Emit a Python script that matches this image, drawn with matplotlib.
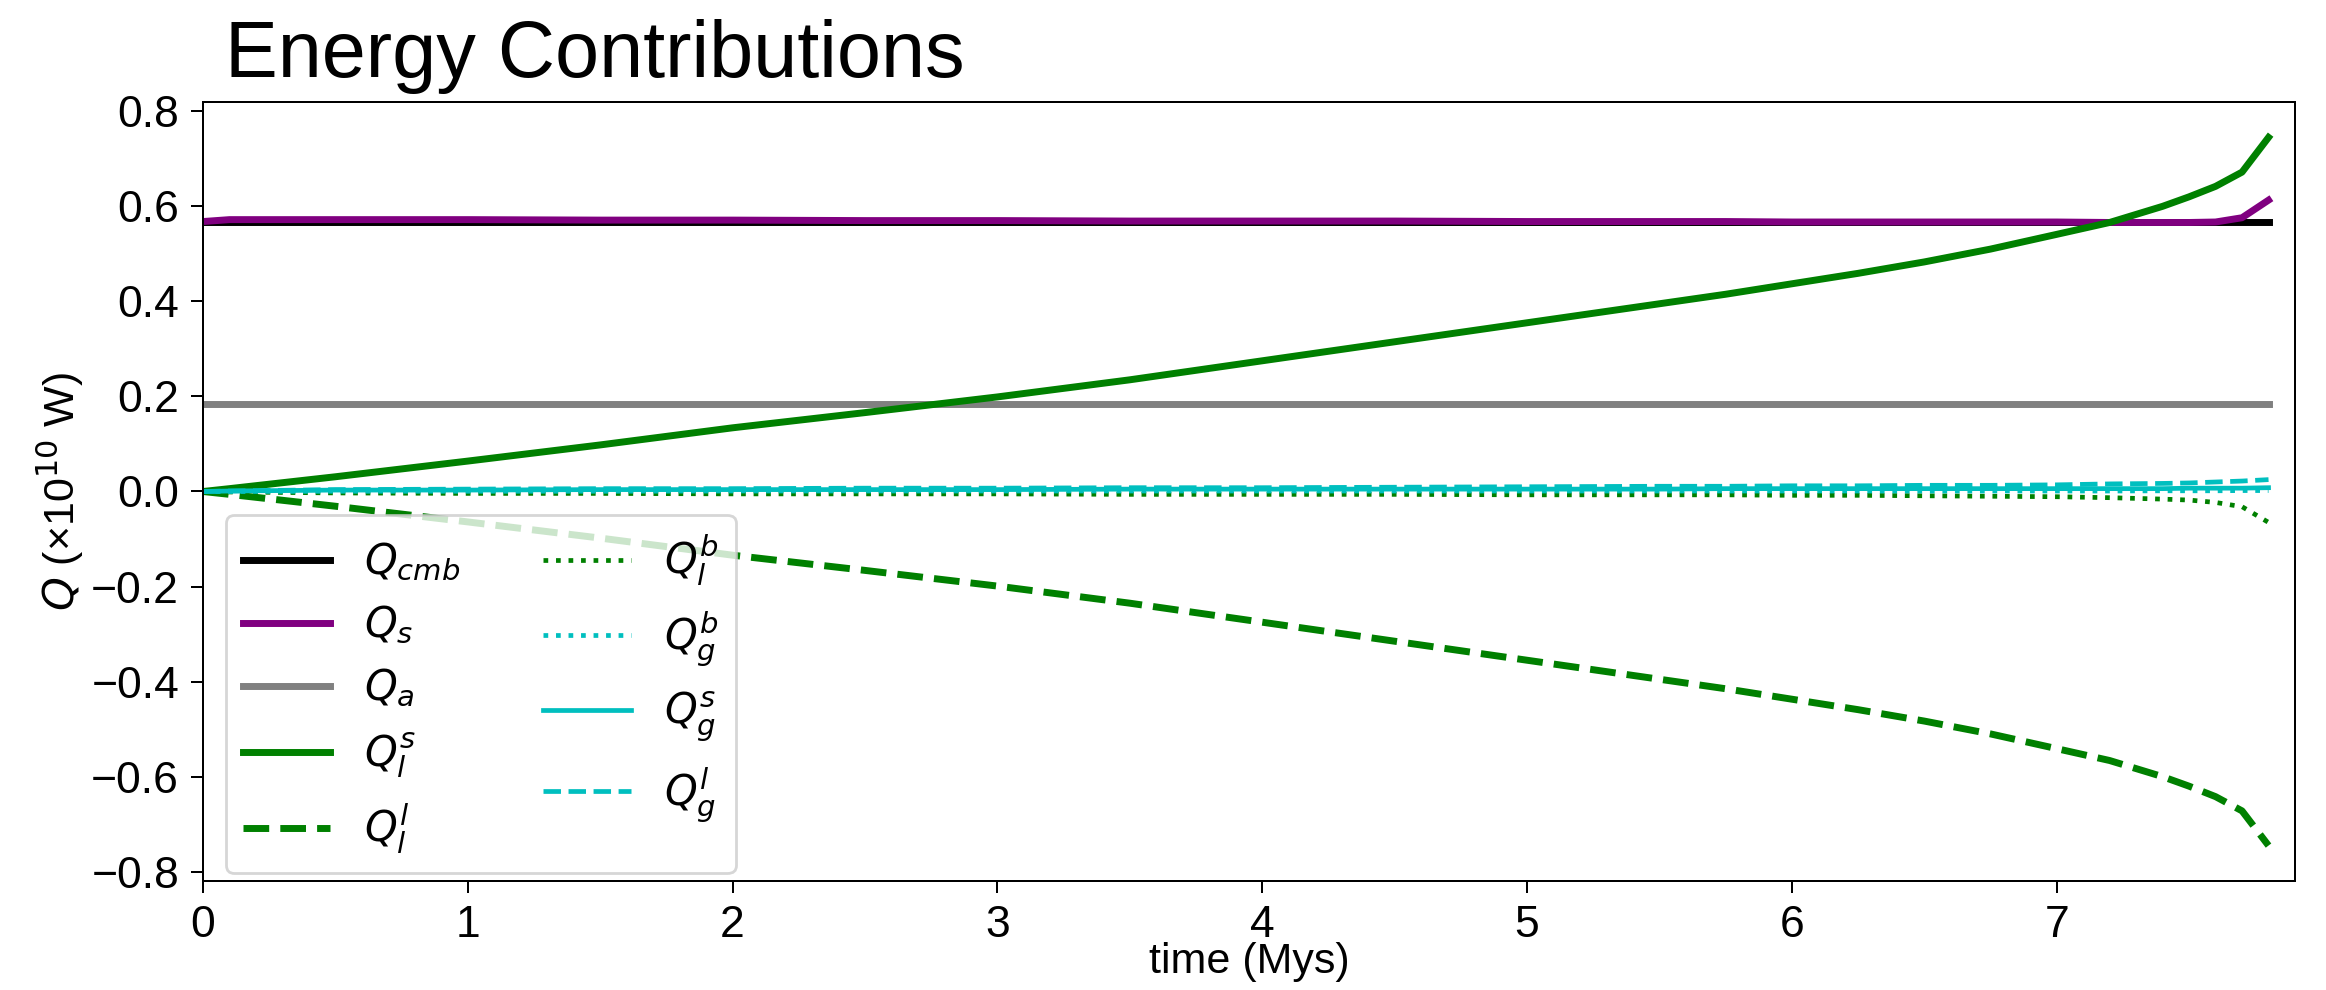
import matplotlib
matplotlib.use("Agg")
import matplotlib.pyplot as plt

# ---------------- data ----------------
time = [0.0, 0.1, 0.5, 1.0, 1.5, 2.0, 2.5, 3.0, 3.5, 4.0, 4.5, 5.0, 5.5,
        5.75, 6.0, 6.25, 6.5, 6.75, 7.0, 7.2, 7.4, 7.5, 7.6, 7.7, 7.8]

Q_cmb = [0.567] * len(time)
Q_s = [0.568, 0.572, 0.572, 0.572, 0.571, 0.571, 0.570, 0.570, 0.569, 0.569,
       0.569, 0.568, 0.568, 0.568, 0.567, 0.567, 0.567, 0.567, 0.567, 0.566,
       0.566, 0.566, 0.567, 0.576, 0.613]
Q_a = [0.185] * len(time)
Q_ls = [0.0, 0.006, 0.031, 0.064, 0.098, 0.134, 0.166, 0.199, 0.235, 0.275,
        0.315, 0.355, 0.395, 0.415, 0.437, 0.459, 0.483, 0.510, 0.541, 0.566,
        0.600, 0.620, 0.642, 0.672, 0.745]
Q_ll = [-0.0, -0.006, -0.031, -0.064, -0.098, -0.134, -0.166, -0.199, -0.235,
        -0.275, -0.315, -0.355, -0.395, -0.415, -0.437, -0.459, -0.483, -0.510,
        -0.541, -0.566, -0.600, -0.620, -0.642, -0.672, -0.745]
Q_lb = [0.0, -0.001, -0.003, -0.004, -0.004, -0.005, -0.005, -0.005, -0.006,
        -0.006, -0.006, -0.007, -0.007, -0.007, -0.008, -0.008, -0.009, -0.010,
        -0.011, -0.013, -0.016, -0.018, -0.023, -0.032, -0.065]
Q_gb = [0.0, 0.0, 0.0005, 0.0005, 0.0005, 0.001, 0.001, 0.001, 0.001, 0.001,
        0.001, 0.001, 0.001, 0.001, 0.001, 0.001, 0.001, 0.001, 0.001, 0.001,
        0.0015, 0.0015, 0.0015, 0.002, 0.002]
Q_gs = [0.0, 0.001, 0.003, 0.003, 0.004, 0.004, 0.004, 0.004, 0.005, 0.005,
        0.005, 0.005, 0.005, 0.006, 0.006, 0.006, 0.006, 0.006, 0.006, 0.006,
        0.006, 0.007, 0.007, 0.007, 0.008]
Q_gl = [0.0, 0.001, 0.004, 0.005, 0.006, 0.006, 0.007, 0.007, 0.008, 0.008,
        0.009, 0.010, 0.011, 0.011, 0.012, 0.012, 0.013, 0.013, 0.014, 0.016,
        0.017, 0.018, 0.020, 0.022, 0.025]

labels = [r'$Q_{cmb}$', r'$Q_s$', r'$Q_a$', r'$Q_l^s$', r'$Q_l^l$',
          r'$Q_l^b$', r'$Q_g^b$', r'$Q_g^s$', r'$Q_g^l$']

title = 'Energy Contributions'
xlabel = 'time (Mys)'
ylabel = r'$Q$ (×10$^{10}$ W)'

# ---------------- style ----------------
plt.rcParams['font.family'] = ['Liberation Sans', 'DejaVu Sans']
plt.rcParams['mathtext.fontset'] = 'dejavusans'
plt.rcParams['axes.linewidth'] = 1.44

W, H = 2326, 990
fig = plt.figure(figsize=(W / 100, H / 100), dpi=100)
ax = fig.add_axes([203 / W, 1 - 881 / H, (2295 - 203) / W, (881 - 102) / H])

thick = 5.0
thin = 3.4
series = [
    (Q_cmb, dict(color='k', lw=thick, ls='-')),
    (Q_s, dict(color='purple', lw=thick, ls='-')),
    (Q_a, dict(color='gray', lw=thick, ls='-')),
    (Q_ls, dict(color='green', lw=thick, ls='-')),
    (Q_ll, dict(color='green', lw=thick, ls='--')),
    (Q_lb, dict(color='green', lw=thin, ls=':')),
    (Q_gb, dict(color='c', lw=thin, ls=':')),
    (Q_gs, dict(color='c', lw=thin, ls='-')),
    (Q_gl, dict(color='c', lw=thin, ls='--')),
]
for (vals, kw), lab in zip(series, labels):
    ax.plot(time, vals, label=lab, **kw)

ax.set_xlim(0, 7.9)
ax.margins(y=0.05)
ax.set_yticks([-0.8, -0.6, -0.4, -0.2, 0.0, 0.2, 0.4, 0.6, 0.8])
ax.set_xticks(range(0, 8))
ax.tick_params(labelsize=32, length=8.7, width=1.44, pad=8.5)
ax.set_xlabel(xlabel, fontsize=31, labelpad=-3)
ax.set_ylabel(ylabel, fontsize=31, labelpad=4)

leg = ax.legend(ncol=2, loc='lower left', bbox_to_anchor=(0.011, 0.0103),
                borderaxespad=0, fontsize=30, handlelength=2.1)
leg.get_frame().set_linewidth(2.0)

fig.text(225 / W, 1 - 77 / H, title, fontsize=57, va='baseline', ha='left')

fig.savefig('out.png', dpi=100)
